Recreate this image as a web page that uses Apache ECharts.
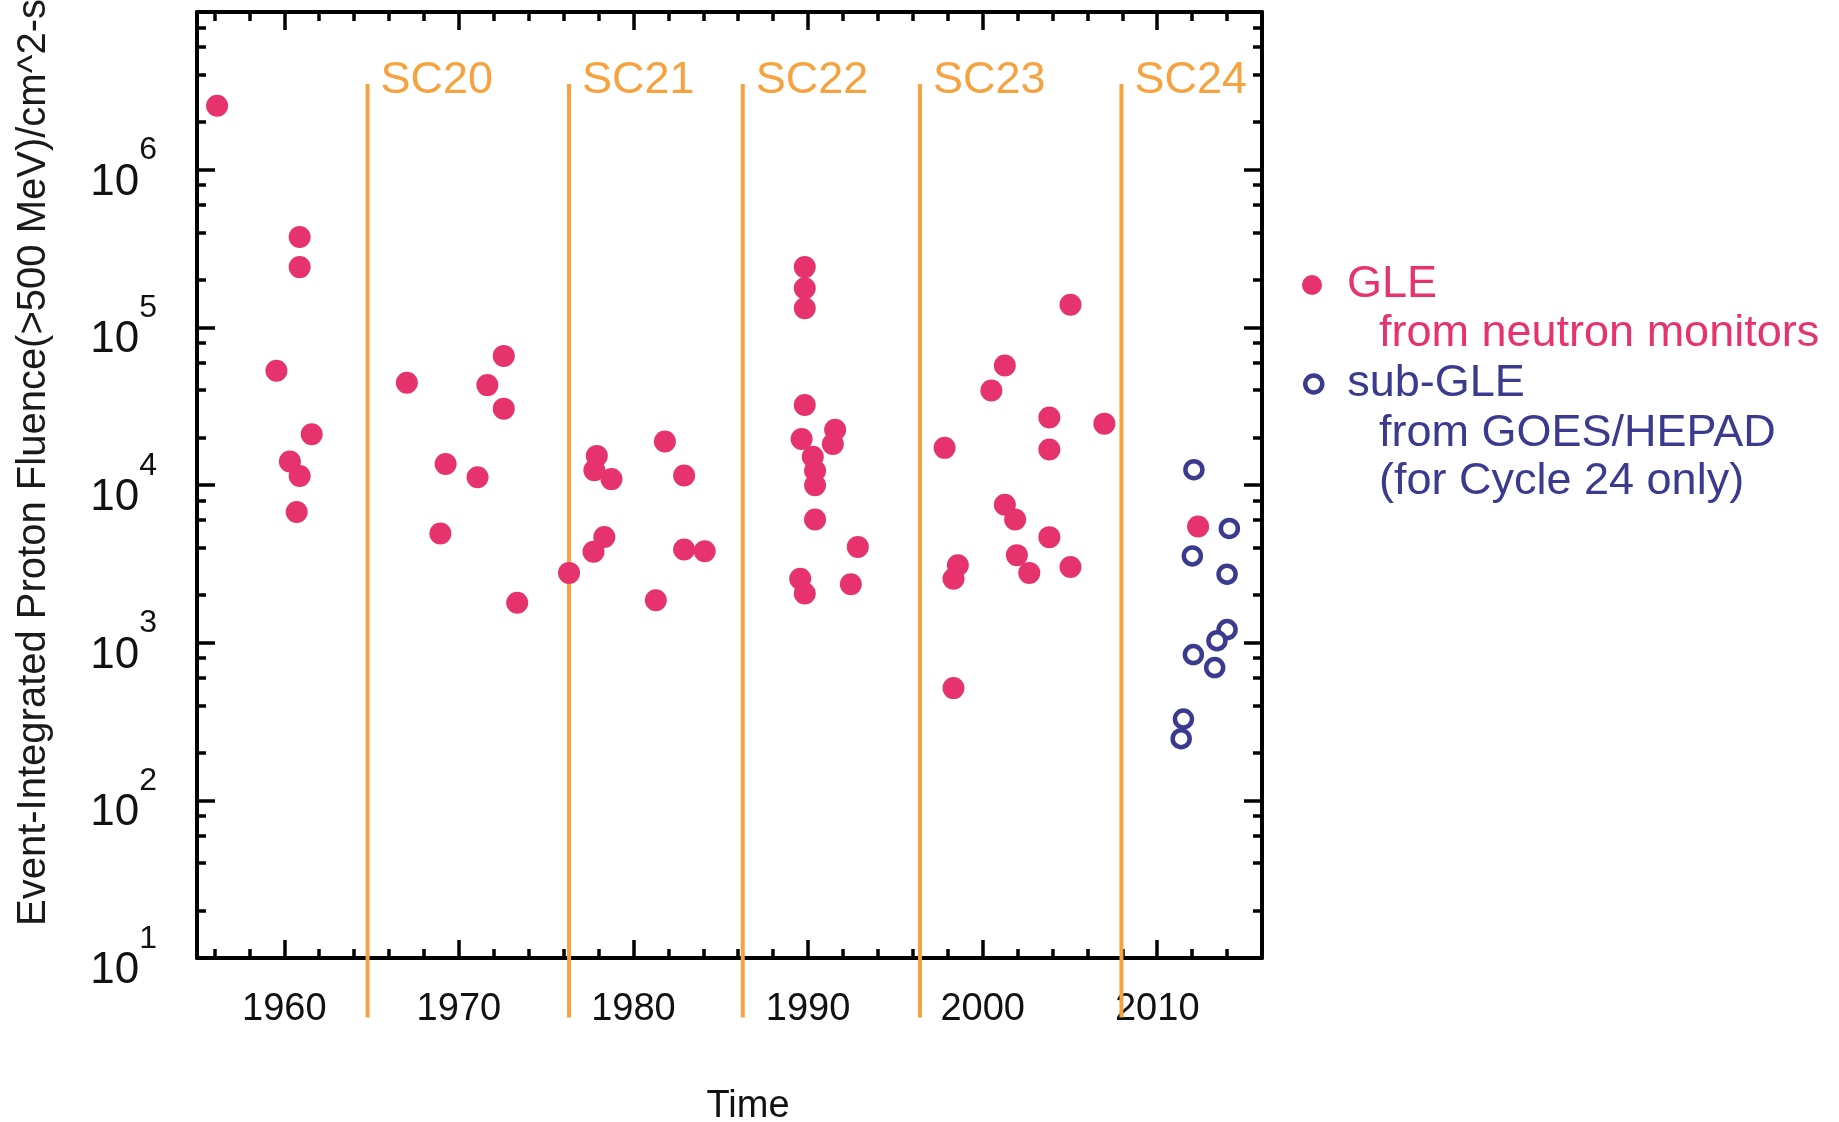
<!DOCTYPE html>
<html>
<head>
<meta charset="utf-8">
<script src="https://cdn.jsdelivr.net/npm/echarts@6/dist/echarts.min.js"></script>
<style>
  html, body { margin: 0; padding: 0; background: #ffffff; }
  #chart { width: 1839px; height: 1122px; }
</style>
</head>
<body>
<div id="chart"></div>
<script>
// Ground level enhancements (GLE), neutron monitor fluence estimates
const gleYears = [
  1956.15, 1959.55, 1960.88, 1960.88, 1960.32, 1960.88, 1960.71, 1961.57,
  1967.02, 1969.24, 1968.94, 1971.07, 1971.63, 1972.57, 1972.57, 1973.34,
  1976.31, 1977.90, 1977.76, 1978.74, 1978.33, 1977.71, 1981.80, 1981.28, 1982.90, 1982.90, 1984.08,
  1989.81, 1989.81, 1989.81, 1989.81, 1989.63, 1990.27, 1990.40, 1990.40, 1991.55, 1991.42, 1990.40,
  1992.85, 1989.55, 1989.81, 1992.45,
  1997.82, 1998.58, 1998.33, 1998.33, 2000.50, 2001.27, 2001.27, 2001.86, 2001.96, 2002.67,
  2003.82, 2003.82, 2003.82, 2005.03, 2005.03, 2006.97,
  2012.34
];
const gleFluence = [
  2.54e6, 5.3e4, 3.74e5, 2.41e5, 1.41e4, 1.14e4, 6.75e3, 2.1e4,
  4.45e4, 1.36e4, 4.92e3, 1.12e4, 4.3e4, 6.59e4, 3.05e4, 1.79e3,
  2.77e3, 1.53e4, 1.24e4, 1.09e4, 4.68e3, 3.77e3, 1.89e4, 1.86e3, 1.15e4, 3.9e3, 3.8e3,
  2.41e5, 1.77e5, 1.32e5, 3.22e4, 1.96e4, 1.51e4, 1.23e4, 9.95e3, 2.24e4, 1.82e4, 6.05e3,
  4.05e3, 2.54e3, 2.05e3, 2.35e3,
  1.72e4, 3.1e3, 2.54e3, 515, 3.97e4, 5.73e4, 7.5e3, 6.05e3, 3.59e3, 2.77e3,
  2.68e4, 1.68e4, 4.67e3, 1.39e5, 3.02e3, 2.45e4,
  5.45e3
];

// sub-GLE events from GOES/HEPAD (Cycle 24 only)
const subGleYears = [2012.10, 2014.13, 2012.01, 2014.00, 2014.00, 2013.42, 2012.07, 2013.29, 2011.50, 2011.37];
const subGleFluence = [1.25e4, 5.3e3, 3.55e3, 2.72e3, 1.21e3, 1.03e3, 840, 695, 328, 246];

// Solar cycle boundaries
const cycleStartYears = [1964.77, 1976.31, 1986.26, 1996.41, 2007.95];
const cycleNames = ['SC20', 'SC21', 'SC22', 'SC23', 'SC24'];

// Axis ticks
const yearTicks = [1960, 1970, 1980, 1990, 2000, 2010];
const yearMinorTicks = [1956, 1958, 1962, 1964, 1966, 1968, 1972, 1974, 1976, 1978,
  1982, 1984, 1986, 1988, 1992, 1994, 1996, 1998, 2002, 2004, 2006, 2008, 2012, 2014];
const fluenceTicks = [10, 100, 1e3, 1e4, 1e5, 1e6, 1e7];
const fluenceLabelTicks = [10, 100, 1e3, 1e4, 1e5, 1e6];
const fluenceMinorTicks = [20, 40, 60, 80, 200, 400, 600, 800, 2e3, 4e3, 6e3, 8e3,
  2e4, 4e4, 6e4, 8e4, 2e5, 4e5, 6e5, 8e5, 2e6, 4e6, 6e6, 8e6];

const FONT = '"Liberation Sans", Arial, Helvetica, sans-serif';
const PINK = '#E6336E';
const NAVY = '#3A3B8F';
const ORANGE = '#F5A23F';
const INK = '#111111';

const chart = echarts.init(document.getElementById('chart'), null, { renderer: 'canvas' });

const baseX = { type: 'value', min: 1955, max: 2016, gridIndex: 0, splitLine: { show: false } };
const baseY = { type: 'log', logBase: 10, min: 10, max: 1e7, gridIndex: 0, splitLine: { show: false } };
const frameLine = { show: true, lineStyle: { color: '#000', width: 4 } };
const majorTick = (vals) => ({ show: true, inside: true, length: 18, customValues: vals, lineStyle: { color: '#000', width: 3.5 } });
const minorTick = (vals) => ({ show: true, inside: true, length: 9, customValues: vals, lineStyle: { color: '#000', width: 3.5 } });
const noLabel = { show: false };

const option = {
  animation: false,
  backgroundColor: '#ffffff',
  grid: { left: 197, top: 12, width: 1065, height: 946, containLabel: false, outerBoundsMode: 'none' },
  xAxis: [
    Object.assign({}, baseX, {
      position: 'bottom',
      axisLine: frameLine,
      axisTick: majorTick(yearTicks),
      axisLabel: { customValues: yearTicks, formatter: (v) => String(v), fontSize: 38, fontFamily: FONT, color: INK, margin: 33 },
      name: 'Time', nameLocation: 'middle', nameGap: 130,
      nameTextStyle: { fontSize: 38, fontFamily: FONT, color: INK, padding: [0, 0, 0, 37] }
    }),
    Object.assign({}, baseX, { position: 'bottom', axisLine: { show: false }, axisTick: minorTick(yearMinorTicks), axisLabel: noLabel }),
    Object.assign({}, baseX, { position: 'top', axisLine: frameLine, axisTick: majorTick(yearTicks), axisLabel: noLabel }),
    Object.assign({}, baseX, { position: 'top', axisLine: { show: false }, axisTick: minorTick(yearMinorTicks), axisLabel: noLabel })
  ],
  yAxis: [
    Object.assign({}, baseY, {
      position: 'left',
      axisLine: frameLine,
      axisTick: majorTick(fluenceTicks),
      axisLabel: {
        customValues: fluenceLabelTicks,
        margin: 40,
        formatter: (v) => '{b|10}{s|' + Math.round(Math.log10(v)) + '}',
        rich: {
          b: { fontSize: 44, fontFamily: FONT, color: INK, lineHeight: 70, verticalAlign: 'bottom' },
          s: { fontSize: 32, fontFamily: FONT, color: INK, verticalAlign: 'top' }
        }
      }
    }),
    Object.assign({}, baseY, { position: 'left', axisLine: { show: false }, axisTick: minorTick(fluenceMinorTicks), axisLabel: noLabel }),
    Object.assign({}, baseY, { position: 'right', axisLine: frameLine, axisTick: majorTick(fluenceTicks), axisLabel: noLabel }),
    Object.assign({}, baseY, { position: 'right', axisLine: { show: false }, axisTick: minorTick(fluenceMinorTicks), axisLabel: noLabel })
  ],
  legend: [
    {
      data: [{ name: 'GLE', icon: 'circle', itemStyle: { color: PINK, borderWidth: 0 }, textStyle: { color: PINK } }],
      left: 1302, top: 262, padding: 0, itemWidth: 20, itemHeight: 20, selectedMode: false,
      textStyle: { fontSize: 45, fontFamily: FONT, lineHeight: 46, padding: [0, 0, 0, 20] }
    },
    {
      data: [{ name: 'sub-GLE', icon: 'circle', itemStyle: { color: '#ffffff', borderColor: NAVY, borderWidth: 4.5 }, textStyle: { color: NAVY } }],
      left: 1303, top: 361, padding: 0, itemWidth: 17, itemHeight: 17, selectedMode: false,
      textStyle: { fontSize: 45, fontFamily: FONT, lineHeight: 46, padding: [0, 0, 0, 20] }
    }
  ],
  graphic: [
    {
      type: 'text', x: 33.5, y: 926, rotation: Math.PI / 2,
      style: { text: 'Event-Integrated Proton Fluence(>500 MeV)/cm^2-sr', font: '40px ' + FONT, fill: '#1a1a1a', align: 'left', verticalAlign: 'middle' }
    },
    { type: 'text', x: 1379, y: 334, style: { text: 'from neutron monitors', font: '45px ' + FONT, fill: PINK, align: 'left', verticalAlign: 'middle' } },
    { type: 'text', x: 1379, y: 434, style: { text: 'from GOES/HEPAD', font: '45px ' + FONT, fill: NAVY, align: 'left', verticalAlign: 'middle' } },
    { type: 'text', x: 1379, y: 482, style: { text: '(for Cycle 24 only)', font: '45px ' + FONT, fill: NAVY, align: 'left', verticalAlign: 'middle' } }
  ],
  series: [
    {
      // solar cycle boundaries with their labels, drawn past the bottom axis
      type: 'custom',
      name: 'cycles',
      xAxisIndex: 0, yAxisIndex: 0,
      clip: false,
      silent: true,
      data: cycleStartYears.map((yr) => [yr, 1e6]),
      encode: { x: 0, y: 1 },
      renderItem: (params, api) => {
        const x = api.value(0);
        const top = api.coord([x, 3.5e6]);
        const bottom = api.coord([x, 4.2]);
        return {
          type: 'group',
          children: [
            { type: 'line', shape: { x1: top[0], y1: top[1], x2: bottom[0], y2: bottom[1] }, style: { stroke: ORANGE, lineWidth: 4 } },
            { type: 'text', x: top[0] + 13, y: top[1] - 3,
              style: { text: cycleNames[params.dataIndex], font: '45px ' + FONT, fill: ORANGE, align: 'left', verticalAlign: 'middle' } }
          ]
        };
      }
    },
    {
      type: 'scatter',
      name: 'GLE',
      xAxisIndex: 0, yAxisIndex: 0,
      symbol: 'circle',
      symbolSize: 22,
      itemStyle: { color: PINK, opacity: 1 },
      data: gleYears.map((yr, i) => [yr, gleFluence[i]])
    },
    {
      type: 'scatter',
      name: 'sub-GLE',
      xAxisIndex: 0, yAxisIndex: 0,
      symbol: 'circle',
      symbolSize: 17,
      itemStyle: { color: '#ffffff', borderColor: NAVY, borderWidth: 4.5, opacity: 1 },
      data: subGleYears.map((yr, i) => [yr, subGleFluence[i]])
    }
  ]
};

chart.setOption(option);
</script>
</body>
</html>
